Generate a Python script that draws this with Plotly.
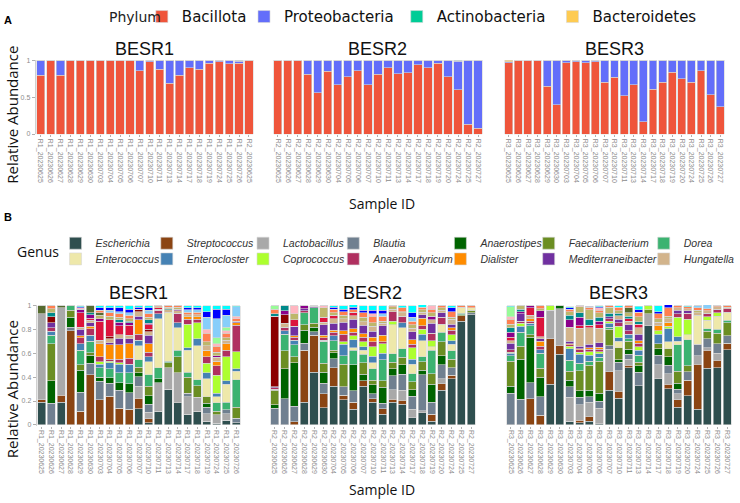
import plotly.graph_objects as go

W, H = 740, 503

# ---------------- sample ids ----------------
r1_dates = ["20230625", "20230626", "20230627", "20230628", "20230629", "20230630", "20230703",
            "20230704", "20230705", "20230706", "20230707", "20230710", "20230711", "20230713",
            "20230714", "20230717", "20230718", "20230719", "20230724", "20230725", "20230726"]
r2_dates = ["20230625", "20230626", "20230627", "20230628", "20230629", "20230630", "20230704",
            "20230705", "20230706", "20230707", "20230710", "20230711", "20230713", "20230714",
            "20230717", "20230718", "20230719", "20230720", "20230724", "20230725", "20230727"]
r3_dates = ["20230625", "20230626", "20230627", "20230628", "20230629", "20230630", "20230703",
            "20230704", "20230705", "20230706", "20230707", "20230710", "20230711", "20230713",
            "20230714", "20230717", "20230718", "20230719", "20230720", "20230724", "20230725",
            "20230726", "20230727"]

a_samples = [["R1_" + d for d in r1_dates] + ["R2_20230625"],
             ["R2_" + d for d in r2_dates],
             ["R3_" + d for d in r3_dates]]
b_samples = [["R1_" + d for d in r1_dates],
             ["R2_" + d for d in r2_dates],
             ["R3_" + d for d in r3_dates]]
reactors = ["BESR1", "BESR2", "BESR3"]

# ---------------- panel A: phylum ----------------
phyla = ["Bacillota", "Proteobacteria", "Actinobacteria", "Bacteroidetes"]
phylum_colors = ["#EF553B", "#636EFA", "#00CC96", "#FECB52"]

bacillota = [
    [.80, 1, .80, 1, 1, 1, 1, 1, 1, 1, .86, .98, .88, .69, .80, .90, .88, .96, .98, .95, .96, 1],
    [1, 1, 1, .81, .56, .85, .67, .78, .86, .67, .81, .90, .82, .83, .94, .90, .96, .78, .60, .13, .08],
    [.97, 1, 1, 1, .65, .40, .97, .98, .97, .98, .70, .77, .52, .67, .17, .61, .70, .84, .75, .70, .86, .53, .37],
]
proteobacteria = [
    [.20, 0, .20, 0, 0, 0, 0, 0, 0, 0, .14, .02, .12, .31, .20, .10, .12, .04, .02, .05, .03, 0],
    [0, 0, 0, .19, .44, .15, .33, .22, .14, .33, .19, .10, .18, .17, .06, .10, .04, .22, .39, .87, .92],
    [.01, 0, 0, 0, .35, .60, .03, .02, .03, .02, .30, .23, .48, .33, .83, .39, .30, .16, .25, .30, .14, .47, .63],
]
actinobacteria = [
    [0, 0, 0, 0, 0, 0, 0, 0, 0, 0, 0, 0, 0, 0, 0, 0, 0, 0, 0, 0, .01, 0],
    [0, 0, 0, 0, 0, 0, 0, 0, 0, 0, 0, 0, 0, 0, 0, 0, 0, 0, .01, 0, 0],
    [0, 0, 0, 0, 0, 0, 0, 0, 0, 0, 0, 0, 0, 0, 0, 0, 0, 0, 0, 0, 0, 0, 0],
]
bacteroidetes = [
    [0, 0, 0, 0, 0, 0, 0, 0, 0, 0, 0, 0, 0, 0, 0, 0, 0, 0, 0, 0, 0, 0],
    [0, 0, 0, 0, 0, 0, 0, 0, 0, 0, 0, 0, 0, 0, 0, 0, 0, 0, 0, 0, 0],
    [.02, 0, 0, 0, 0, 0, 0, 0, 0, 0, 0, 0, 0, 0, 0, 0, 0, 0, 0, 0, 0, 0, 0],
]
phylum_values = [bacillota, proteobacteria, actinobacteria, bacteroidetes]

# ---------------- panel B: genus ----------------
escherichia = [
    [.19, 0, .19, 0, 0, 0, 0, 0, 0, 0, .135, .02, .115, .30, .185, .09, .115, .03, .015, .04, .02],
    [0, 0, 0, .19, .44, .145, .325, .21, .13, .325, .19, .09, .19, .175, .06, .10, .03, .29, .385, .87, .925],
    [0, 0, 0, 0, .34, .59, .03, .02, .03, .01, .29, .225, .48, .33, .83, .385, .305, .15, .245, .13, .475, .48, .63],
]
streptococcus = [
    [.02, 0, .06, .79, .115, .42, .21, .24, .14, .13, .09, .03, 0, 0, 0, 0, 0, 0, 0, 0, 0],
    [0, 0, .025, .435, .31, .115, .155, .04, .06, .045, .03, .045, .025, .03, 0, 0, .06, .055, .03, .045, 0],
    [0, 0, .22, .08, .38, .075, 0, .02, .04, 0, .155, .055, .02, 0, 0, 0, .035, .06, .13, .38, .15, .06, .055],
]
lactobacillus = [
    [.72, 0, .73, 0, 0, 0, 0, 0, 0, 0, .10, .055, .24, .18, .25, .145, .115, .065, .07, .055, 0],
    [0, 0, 0, 0, 0, 0, 0, 0, 0, 0, 0, 0, .08, .085, .07, .02, 0, .04, 0, 0, 0],
    [0, 0, 0, 0, .24, .31, .20, .13, .12, .13, .19, .175, .05, 0, .10, .12, .09, .05, 0, .07, .02, .06, 0],
]
blautia = [
    [0, .18, 0, .03, .16, .095, .155, .11, .15, .14, .08, .07, 0, 0, 0, .03, 0, .055, 0, .03, .035],
    [.14, .22, .13, .06, .03, .09, .075, .07, .095, 0, .04, .045, .115, .135, .11, .30, .10, .12, .065, 0, .015],
    [.265, .215, .135, .155, 0, 0, .09, .06, .045, .06, .03, .07, .04, .11, 0, .08, .07, .04, .07, .095, .075, .08, .06],
]
anaerostipes = [
    [0, .19, 0, .08, .185, .07, .035, .045, .065, .075, .03, .07, .03, 0, 0, 0, 0, .03, 0, 0, 0],
    [.03, .25, .365, .11, .04, .09, .05, 0, .22, .055, .075, .135, .06, .08, .055, .04, .15, .075, 0, 0, 0],
    [.06, .335, .38, .165, 0, .025, .055, .055, .055, .065, 0, .02, .045, .055, 0, .055, .07, .05, 0, 0, 0, 0, 0],
]
faecalibacterium = [
    [0, .31, 0, .06, .045, .02, 0, 0, 0, 0, .05, .08, 0, .04, .135, .135, .10, .055, .03, 0, .095],
    [.12, .15, .05, .045, .03, .075, .02, .19, 0, .095, .04, .055, .055, .06, .065, .07, .09, .115, .07, .01, .02],
    [.21, .11, .02, .075, 0, 0, .075, .17, .21, .27, .135, .10, .065, .03, .035, .04, .07, .10, .05, 0, .065, .09, .11],
]
dorea = [
    [0, .07, 0, .04, .12, .095, .08, .075, .08, .09, .06, .095, .095, .015, .055, .04, .05, 0, .07, .065, .23],
    [.01, .14, .10, .10, .13, .185, .08, .07, .12, .07, .095, .175, .07, .075, .07, .04, .195, .08, .07, .01, 0],
    [.045, .115, .075, .125, 0, 0, .09, .06, .035, .03, .02, 0, .02, .06, 0, 0, 0, .22, .22, 0, .02, .03, .02],
]
enterococcus = [
    [0, 0, 0, 0, 0, 0, 0, 0, 0, 0, .12, .11, .41, .41, .19, .185, .285, .15, .05, .15, .07],
    [0, 0, 0, 0, 0, 0, 0, 0, .02, .035, .05, 0, .245, .175, .08, .135, .03, .07, .055, .05, .02],
    [0, 0, 0, 0, 0, 0, 0, 0, 0, 0, 0, .055, 0, 0, 0, 0, .055, .03, .04, .245, .07, .11, .07],
]
enterocloster = [
    [0, .035, 0, 0, .055, .05, .03, .05, .075, .075, .045, .04, .04, 0, .04, .02, .055, .05, .03, .03, .02],
    [0, .03, .04, 0, 0, .01, .04, .095, .07, .03, .055, .055, 0, .04, .04, .055, 0, 0, .03, 0, 0],
    [.02, .05, .02, .03, 0, 0, .10, .075, .05, .03, .03, .03, .04, .04, 0, .08, .11, .04, 0, 0, 0, 0, 0],
]
coprococcus = [
    [0, 0, 0, 0, 0, 0, .02, .015, .01, 0, 0, 0, 0, 0, 0, .20, .135, .08, .15, .20, .145],
    [0, 0, 0, 0, 0, 0, 0, .02, .03, .04, .08, .08, .03, 0, .095, .04, .05, 0, .05, 0, 0],
    [.01, .025, 0, 0, .04, 0, .02, .02, .03, .02, .02, .095, 0, .03, .035, .03, .02, .16, .13, 0, .03, .03, 0],
]
anaerobutyricum = [
    [0, .03, 0, 0, .05, .055, .04, .015, .03, .05, .05, .04, .03, 0, .08, .04, .03, .055, .08, .055, .22],
    [.01, .03, .025, .015, 0, .02, .03, .065, .03, .04, .04, .015, .08, .055, .03, .03, .065, .055, .04, 0, 0],
    [.02, .02, .02, .03, 0, 0, .01, .02, .02, .02, .02, .03, .03, .03, 0, 0, 0, .03, .05, 0, .03, .03, .03],
]
dialister = [
    [0, 0, 0, 0, .015, .02, .11, .12, .12, .12, .12, .07, 0, 0, 0, .02, .02, .055, .04, .055, .02],
    [0, 0, .01, 0, 0, .02, .02, .03, .03, .03, .04, .055, 0, 0, .04, .065, 0, 0, .02, 0, 0],
    [0, 0, .02, .04, 0, 0, .01, .01, .01, .015, 0, 0, 0, .02, 0, .04, .035, 0, 0, 0, 0, 0, 0],
]
mediterraneibacter = [
    [0, .04, 0, 0, .055, .03, 0, .02, .055, .04, .03, .07, 0, 0, 0, 0, 0, 0, 0, 0, .015],
    [.01, 0, .08, .02, .015, .09, .055, .07, .08, .07, .05, .08, 0, 0, .065, .03, .08, .04, .03, 0, 0],
    [.055, .06, 0, .02, 0, 0, .02, .02, .03, .04, .015, .03, .05, .055, 0, 0, 0, .03, .02, 0, 0, 0, 0],
]
hungatella = [
    [0, 0, 0, 0, .02, .02, .03, .03, .03, .03, .04, .03, .01, .02, .02, .02, .02, .04, .03, .03, 0],
    [0, .03, 0, 0, 0, .02, .04, .03, .03, .03, .04, .02, .02, .03, .03, .02, .03, .02, .04, 0, 0],
    [.02, 0, .03, .02, 0, 0, .12, .15, .14, .12, 0, .03, .03, .055, 0, .03, .03, .02, .02, .02, .02, .02, .01],
]
# minor genera (not in legend)
other_darkred = [
    [0, .05, 0, 0, 0, 0, 0, .02, 0, 0, .02, .02, 0, 0, 0, 0, 0, 0, 0, 0, 0],
    [.59, .075, 0, 0, 0, 0, 0, 0, 0, 0, 0, 0, 0, 0, 0, 0, 0, 0, 0, 0, 0],
    [0, 0, 0, 0, 0, 0, 0, 0, 0, 0, 0, 0, 0, 0, 0, 0, 0, 0, 0, 0, 0, 0, 0],
]
other_crimson = [
    [0, 0, 0, 0, .12, .02, .16, .14, .075, .085, 0, .04, .01, 0, 0, 0, 0, 0, 0, 0, 0],
    [0, 0, .055, 0, 0, .04, .03, 0, .03, 0, 0, 0, 0, 0, 0, 0, 0, 0, 0, 0, 0],
    [.03, 0, .06, .16, 0, 0, 0, .02, .02, .03, 0, 0, .02, .03, 0, 0, 0, 0, 0, 0, 0, 0, 0],
]
other_darkmagenta = [
    [0, 0, 0, 0, .03, .03, .02, 0, .03, .02, 0, .01, 0, 0, .015, 0, 0, 0, .015, 0, 0],
    [0, .03, 0, .025, .005, 0, 0, 0, 0, 0, 0, 0, 0, 0, 0, 0, .03, 0, 0, 0, 0],
    [.04, .02, .02, .055, 0, 0, .06, .07, 0, .03, 0, 0, 0, 0, 0, 0, 0, 0, 0, 0, 0, 0, 0],
]
other_teal = [
    [0, .035, 0, 0, 0, .015, 0, 0, .02, .015, 0, .03, 0, .01, 0, 0, 0, 0, 0, 0, 0],
    [.02, .045, 0, 0, 0, 0, 0, 0, 0, 0, 0, 0, 0, 0, 0, 0, 0, 0, 0, 0, 0],
    [.04, .02, 0, 0, 0, 0, .04, .04, .05, .03, .03, .02, .02, .02, 0, 0, 0, 0, 0, 0, 0, 0, 0],
]
other_khaki = [
    [0, .035, 0, 0, 0, 0, .03, .03, .02, .02, 0, .02, .01, .01, .015, 0, 0, .03, .03, .02, 0],
    [0, 0, .05, 0, 0, .08, .02, .03, 0, .035, .03, .02, .02, .01, .03, .02, .03, .02, .015, 0, 0],
    [.03, .03, 0, .02, 0, 0, .03, .05, .08, .04, .05, .02, .03, .04, 0, .03, .02, 0, 0, .02, 0, 0, 0],
]
other_darkolive = [
    [.07, 0, .02, 0, 0, .06, .02, 0, 0, 0, 0, 0, 0, 0, 0, 0, 0, 0, 0, 0, 0],
    [0, 0, 0, 0, 0, 0, 0, 0, 0, 0, 0, 0, 0, 0, 0, 0, 0, 0, 0, 0, 0],
    [0, 0, 0, 0, 0, 0, 0, 0, 0, 0, 0, 0, .04, 0, 0, 0, 0, 0, 0, 0, 0, 0, 0],
]
other_coral = [
    [0, .025, 0, 0, 0, 0, .02, .03, .03, .03, 0, .03, .01, .015, .015, .02, .02, .075, .05, .04, .02],
    [.04, 0, 0, 0, 0, 0, .03, .03, .02, .04, .055, .04, .01, .03, .03, .02, .03, .02, .05, .015, .02],
    [.04, 0, 0, .025, 0, 0, .02, 0, .02, .02, .015, .03, .02, .04, 0, .04, .07, .02, .015, .02, .02, .01, .015],
]
other_pink = [
    [0, 0, 0, 0, .01, 0, 0, 0, 0, 0, 0, 0, 0, 0, 0, 0, 0, .03, .02, .02, .02],
    [0, 0, .07, 0, 0, .02, 0, 0, 0, 0, .02, 0, 0, 0, 0, 0, .03, 0, 0, 0, 0],
    [.02, 0, 0, 0, 0, 0, 0, .01, 0, .02, 0, 0, 0, 0, 0, 0, 0, 0, 0, 0, 0, 0, 0],
]
other_palegreen = [
    [0, 0, 0, 0, 0, 0, 0, 0, 0, 0, 0, 0, 0, 0, 0, 0, 0, 0, .05, .03, 0],
    [.03, 0, 0, 0, 0, 0, 0, 0, 0, 0, 0, 0, 0, 0, 0, 0, 0, 0, 0, 0, 0],
    [.085, 0, 0, 0, 0, 0, 0, 0, 0, 0, 0, 0, 0, 0, 0, 0, 0, 0, 0, 0, 0, 0, 0],
]
other_lightskyblue = [
    [0, 0, 0, 0, 0, 0, 0, .02, .02, .02, 0, .03, 0, 0, 0, .02, .02, .10, .16, .10, .08],
    [0, 0, 0, 0, 0, 0, 0, 0, 0, 0, 0, .02, 0, 0, .03, 0, 0, 0, 0, 0, 0],
    [0, 0, 0, 0, 0, 0, 0, 0, 0, 0, 0, 0, 0, 0, 0, 0, 0, 0, 0, .02, .03, 0, 0],
]
other_blue = [
    [0, 0, 0, 0, .01, 0, .02, .02, .03, .03, .015, .02, 0, 0, 0, .015, .015, .05, .08, .05, 0],
    [0, 0, 0, 0, 0, 0, .015, .02, .02, .02, .03, .03, 0, 0, .04, 0, 0, 0, .03, 0, 0],
    [0, 0, 0, 0, 0, 0, .01, 0, .01, .01, 0, 0, 0, .02, 0, .02, .03, 0, 0, 0, 0, 0, 0],
]
other_cyan = [
    [0, 0, 0, 0, .01, 0, .02, .02, .02, .03, .015, .02, 0, 0, 0, .02, .02, .05, .03, .03, .01],
    [0, 0, 0, 0, 0, 0, .015, .03, .02, .04, .04, .04, 0, .02, .06, .03, 0, 0, .02, 0, 0],
    [.01, 0, 0, 0, 0, 0, .01, 0, 0, .01, 0, .015, 0, .03, 0, .05, 0, 0, .01, 0, 0, 0, 0],
]

genus_names = ["Escherichia", "Streptococcus", "Lactobacillus", "Blautia", "Anaerostipes",
               "Faecalibacterium", "Dorea", "Enterococcus", "Enterocloster", "Coprococcus",
               "Anaerobutyricum", "Dialister", "Mediterraneibacter", "Hungatella"]
genus_colors = ["#2F4F4F", "#8B4513", "#A9A9A9", "#708090", "#006400", "#6B8E23", "#3CB371",
                "#EEE8AA", "#4682B4", "#ADFF2F", "#B03060", "#FF8C00", "#7030A0", "#D2B48C"]
genus_values = [escherichia, streptococcus, lactobacillus, blautia, anaerostipes, faecalibacterium,
                dorea, enterococcus, enterocloster, coprococcus, anaerobutyricum, dialister,
                mediterraneibacter, hungatella]

other_names = ["Other (dark red)", "Other (crimson)", "Other (dark magenta)", "Other (teal)",
               "Other (khaki)", "Other (olive)", "Other (coral)", "Other (pink)", "Other (pale green)",
               "Other (sky blue)", "Other (blue)", "Other (cyan)"]
other_colors = ["#8B0000", "#DC143C", "#8B008B", "#008B8B", "#BDB76B", "#556B2F", "#FF7F50",
                "#FFB6C1", "#98FB98", "#87CEFA", "#0000FF", "#00FFFF"]
other_values = [other_darkred, other_crimson, other_darkmagenta, other_teal, other_khaki,
                other_darkolive, other_coral, other_pink, other_palegreen, other_lightskyblue,
                other_blue, other_cyan]

# ---------------- layout geometry (pixels) ----------------
a_xpx = [(36, 256), (275, 487), (508, 731)]
a_ypx = (54, 130)
b_xpx = [(37, 243), (272, 480), (510, 738)]
b_ypx = (304, 427)
# legend entry positions (symbol centre x, row centre y)
phylum_leg_x = [162, 265, 419, 576]
phylum_leg_y = 10
genus_leg_x = [75, 167, 264, 355, 463, 552, 668]
genus_leg_y = [241, 257]

def xd(p):
    return [p[0] / W, p[1] / W]

def yd(p):
    return [1 - p[1] / H, 1 - p[0] / H]

fig = go.Figure()
LINE = dict(color="#d6d6d6", width=0.6)

legends = {}
PLEG_FONT = dict(family="DejaVu Sans", size=15, color="#111")
GLEG_FONT = dict(family="Liberation Sans", size=10.5, style="italic", color="#333")
SYM_OFF = 19  # px from legend box left to symbol centre

def leg_key(i):
    return "legend" if i == 1 else f"legend{i}"

# panel A traces
for j, (name, col, vals) in enumerate(zip(phyla, phylum_colors, phylum_values)):
    key = leg_key(j + 1)
    legends[key] = dict(orientation="h", x=(phylum_leg_x[j] - SYM_OFF) / W, y=1 - phylum_leg_y / H,
                        xanchor="left", yanchor="middle", font=PLEG_FONT,
                        bgcolor="rgba(0,0,0,0)", itemclick=False, itemdoubleclick=False)
    for k in range(3):
        ax = "" if k == 0 else str(k + 1)
        fig.add_trace(go.Bar(
            x=a_samples[k], y=vals[k], name=name, marker=dict(color=col, line=LINE),
            xaxis="x" + ax, yaxis="y" + ax, legend=key, showlegend=(k == 0)))

# panel B traces (stacking order = trace order)
for k in range(3):
    ax = str(k + 4)
    for i, (name, col, vals) in enumerate(zip(genus_names, genus_colors, genus_values)):
        key = leg_key(5 + i)
        if k == 0:
            legends[key] = dict(orientation="h", x=(genus_leg_x[i % 7] - SYM_OFF) / W,
                                y=1 - genus_leg_y[i // 7] / H, xanchor="left", yanchor="middle",
                                font=GLEG_FONT, bgcolor="rgba(0,0,0,0)",
                                itemclick=False, itemdoubleclick=False)
        fig.add_trace(go.Bar(
            x=b_samples[k], y=vals[k], name=name, marker=dict(color=col, line=LINE),
            xaxis="x" + ax, yaxis="y" + ax, legend=key, showlegend=(k == 0)))
    for name, col, vals in zip(other_names, other_colors, other_values):
        fig.add_trace(go.Bar(
            x=b_samples[k], y=vals[k], name=name, marker=dict(color=col, line=LINE),
            xaxis="x" + ax, yaxis="y" + ax, showlegend=False))

TICKFONT = dict(family="Liberation Sans", size=7, color="#8c8c8c")
layout_axes = {}
for k in range(6):
    n = k + 1
    xkey = "xaxis" if n == 1 else f"xaxis{n}"
    ykey = "yaxis" if n == 1 else f"yaxis{n}"
    if k < 3:
        xdom, ydom, samples = xd(a_xpx[k]), yd(a_ypx), a_samples[k]
        tickvals, ticktext = [0, 0.5, 1], ["0", "0.5", "1"]
    else:
        xdom, ydom, samples = xd(b_xpx[k - 3]), yd(b_ypx), b_samples[k - 3]
        tickvals, ticktext = [0, 0.2, 0.4, 0.6, 0.8, 1], ["0", "0.2", "0.4", "0.6", "0.8", "1"]
    first = k in (0, 3)
    layout_axes[xkey] = dict(
        domain=xdom, anchor="y" if n == 1 else f"y{n}", type="category",
        range=[-0.5, len(samples) - 0.5], tickangle=90, tickfont=TICKFONT,
        ticks="outside", ticklen=2, tickcolor="#b0b0b0", tickwidth=0.6,
        showgrid=False, showline=False, zeroline=False, fixedrange=True)
    layout_axes[ykey] = dict(
        domain=ydom, anchor="x" if n == 1 else f"x{n}", range=[-0.005, 1.005],
        tickvals=tickvals, ticktext=ticktext, showticklabels=first, tickfont=TICKFONT,
        ticks="outside" if first else "", ticklen=3, tickcolor="#b0b0b0", tickwidth=0.6,
        showgrid=False, zeroline=False, showline=first, linecolor="#d0d0d0", linewidth=1,
        fixedrange=True)

annotations = []
TITLEFONT = dict(family="Liberation Sans", size=18, color="#111")
for k in range(3):
    cx = (a_xpx[k][0] + a_xpx[k][1]) / 2 / W
    annotations.append(dict(text=reactors[k], x=cx, y=1 - 43 / H, xref="paper", yref="paper",
                            showarrow=False, font=TITLEFONT, xanchor="center", yanchor="middle"))
    cx = (b_xpx[k][0] + b_xpx[k][1]) / 2 / W
    annotations.append(dict(text=reactors[k], x=cx, y=1 - 292 / H, xref="paper", yref="paper",
                            showarrow=False, font=TITLEFONT, xanchor="center", yanchor="middle"))

LABELFONT = dict(family="Open Sans", size=14, color="#111")
for yy in (200, 492):
    annotations.append(dict(text="Sample ID", x=385 / W, y=1 - yy / H, xref="paper", yref="paper",
                            showarrow=False, font=LABELFONT, xanchor="center", yanchor="middle"))
for yy in (110, 390):
    annotations.append(dict(text="Relative Abundance", x=12 / W, y=1 - yy / H, xref="paper",
                            yref="paper", showarrow=False, textangle=-90,
                            font=dict(family="Open Sans", size=15, color="#111"),
                            xanchor="center", yanchor="middle"))
annotations.append(dict(text="<b>A</b>", x=2 / W, y=1 - 13 / H, xref="paper", yref="paper",
                        showarrow=False, font=dict(family="Liberation Sans", size=11, color="#000"),
                        xanchor="left", yanchor="middle"))
annotations.append(dict(text="<b>B</b>", x=2 / W, y=1 - 214 / H, xref="paper", yref="paper",
                        showarrow=False, font=dict(family="Liberation Sans", size=11, color="#000"),
                        xanchor="left", yanchor="middle"))
annotations.append(dict(text="Phylum", x=108 / W, y=1 - 10 / H, xref="paper", yref="paper",
                        showarrow=False, font=dict(family="DejaVu Sans", size=14, color="#222"),
                        xanchor="left", yanchor="middle"))
annotations.append(dict(text="Genus", x=15 / W, y=1 - 249 / H, xref="paper", yref="paper",
                        showarrow=False, font=dict(family="Open Sans", size=14, color="#111"),
                        xanchor="left", yanchor="middle"))

fig.update_layout(
    width=W, height=H, margin=dict(l=0, r=0, t=0, b=0),
    paper_bgcolor="white", plot_bgcolor="white",
    barmode="stack", bargap=0.18,
    showlegend=True,
    annotations=annotations,
    **legends,
    **layout_axes,
)

fig.write_html("out.html")
